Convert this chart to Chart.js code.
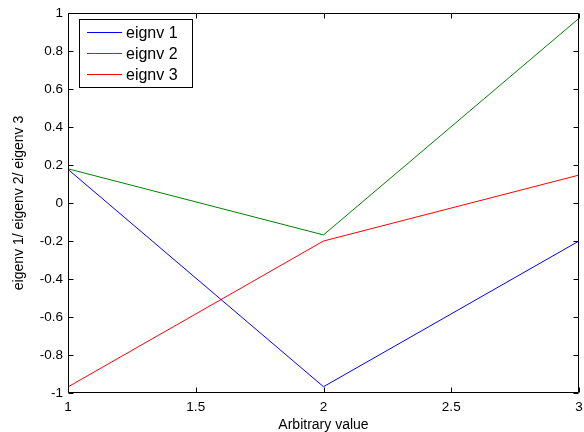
<!DOCTYPE html>
<html>
<head>
<meta charset="utf-8">
<script src="https://cdn.jsdelivr.net/npm/chart.js@4"></script>
<style>
html,body{margin:0;padding:0;background:#fff;}
#wrap{width:584px;height:432px;position:relative;}
</style>
</head>
<body>
<div id="wrap"><canvas id="c" width="584" height="432"></canvas></div>
<script>
const xValues = [1, 2, 3];
const eignv1 = [0.177, -0.967, -0.2];
const eignv2 = [0.18, -0.168, 0.972];
const eignv3 = [-0.968, -0.2, 0.147];
const seriesLabels = ['eignv 1', 'eignv 2', 'eignv 3'];
const seriesColors = ['#0000ff', '#008000', '#ff0000'];
const xTitle = 'Arbitrary value';
const yTitle = 'eigenv 1/ eigenv 2/ eigenv 3';

const FONT = 'Liberation Sans, Arial, sans-serif';

function pts(ys){ return xValues.map((x,i)=>({x:x, y:ys[i]})); }

const boxPlugin = {
  id: 'box',
  afterDatasetsDraw(chart){
    const ctx = chart.ctx, a = chart.chartArea;
    const xs = chart.scales.x, ys = chart.scales.y;
    ctx.save();
    ctx.strokeStyle = '#000';
    ctx.lineWidth = 1;
    ctx.beginPath();
    const L = Math.round(a.left)+0.5, R = Math.round(a.right)-0.5, T = Math.round(a.top)+0.5, B = Math.round(a.bottom)-0.5;
    ctx.rect(L, T, R-L, B-T);
    const tl = 5;
    xs.ticks.forEach(t=>{
      const px = Math.round(xs.getPixelForValue(t.value))+0.5;
      ctx.moveTo(px, B); ctx.lineTo(px, B-tl);
      ctx.moveTo(px, T); ctx.lineTo(px, T+tl);
    });
    ys.ticks.forEach(t=>{
      const py = Math.round(ys.getPixelForValue(t.value))+0.5;
      ctx.moveTo(L, py); ctx.lineTo(L+tl, py);
      ctx.moveTo(R, py); ctx.lineTo(R-tl, py);
    });
    ctx.stroke();
    // legend
    const lx = 79.5, ly = 19.5, lw = 113, lh = 68;
    ctx.fillStyle = '#fff';
    ctx.fillRect(lx, ly, lw, lh);
    ctx.strokeRect(lx, ly, lw, lh);
    ctx.font = '16px ' + FONT;
    ctx.textBaseline = 'middle';
    chart.data.datasets.forEach((ds,i)=>{
      const yy = 32.5 + i*21;
      ctx.strokeStyle = ds.borderColor;
      ctx.beginPath(); ctx.moveTo(87, yy); ctx.lineTo(122, yy); ctx.stroke();
      ctx.fillStyle = '#000';
      ctx.fillText(ds.label, 126, yy+1);
    });
    ctx.restore();
  }
};

function fmt(v){ const n = Math.round(v*10)/10; return (Math.abs(n) < 1e-9 ? 0 : n).toString(); }

new Chart(document.getElementById('c'), {
  type: 'line',
  data: {
    datasets: [eignv1, eignv2, eignv3].map((d,i)=>({
      label: seriesLabels[i],
      data: pts(d),
      borderColor: seriesColors[i],
      backgroundColor: seriesColors[i],
      borderWidth: 1,
      pointRadius: 0,
      tension: 0,
      fill: false
    }))
  },
  options: {
    responsive: false,
    animation: false,
    devicePixelRatio: 1,
    layout: { padding: { top: 13, right: 5, left: 0, bottom: 0 } },
    plugins: { legend: { display: false }, tooltip: { enabled: false } },
    scales: {
      x: {
        type: 'linear', min: 1, max: 3,
        afterFit(s){ s.height = 39; s.paddingLeft = 0; s.paddingRight = 0; },
        grid: { display: true, drawOnChartArea: false, drawTicks: false },
        border: { display: false },
        ticks: { stepSize: 0.5, padding: 6, color: '#000', font: { family: FONT, size: 13.5 }, callback: v => fmt(v), maxRotation: 0 },
        title: { display: true, text: xTitle, color: '#000', font: { family: FONT, size: 14, lineHeight: 1 }, padding: { top: 0, bottom: 0 } }
      },
      y: {
        type: 'linear', min: -1, max: 1,
        afterFit(s){ s.width = 68; s.paddingTop = 0; s.paddingBottom = 0; },
        grid: { display: true, drawOnChartArea: false, drawTicks: false },
        border: { display: false },
        ticks: { stepSize: 0.2, padding: 5, color: '#000', font: { family: FONT, size: 13.5 }, callback: v => fmt(v) },
        title: { display: true, text: yTitle, color: '#000', font: { family: FONT, size: 14 }, padding: { top: 11, bottom: 0 } }
      }
    }
  },
  plugins: [boxPlugin]
});
</script>
</body>
</html>
